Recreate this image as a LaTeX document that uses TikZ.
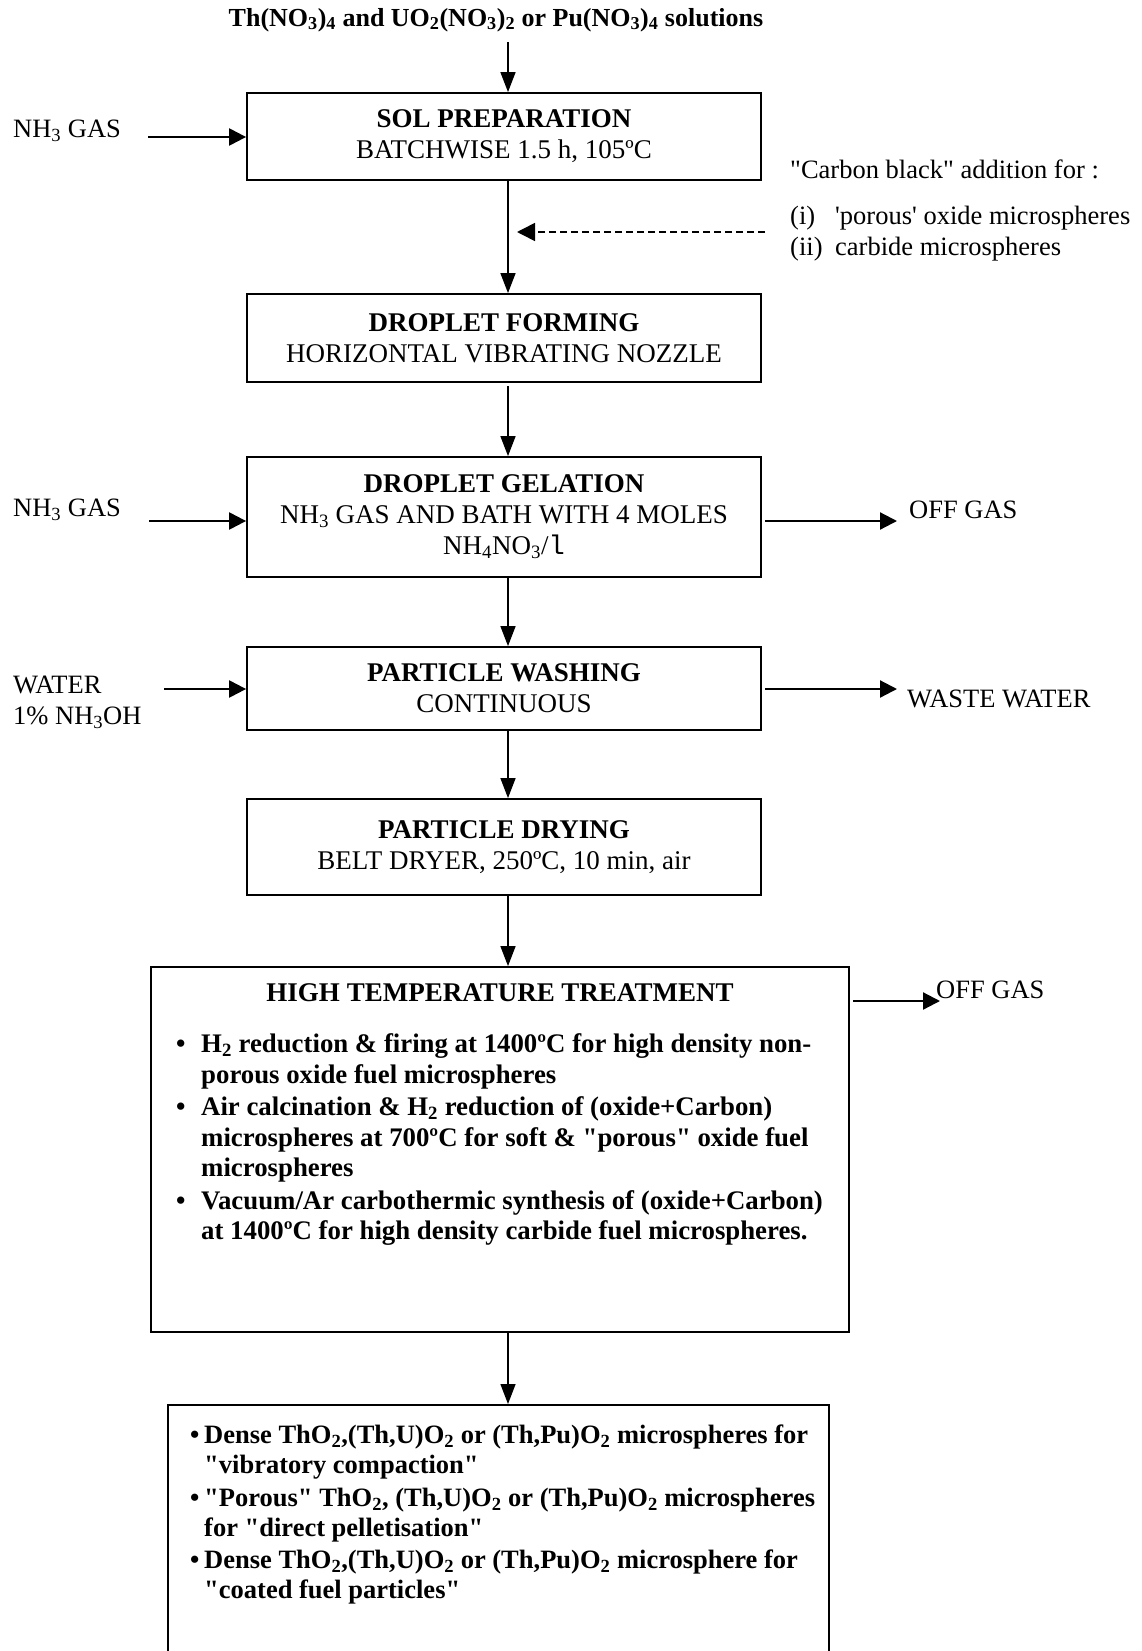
\documentclass[tikz,border=0pt]{standalone}
\usepackage{fontspec}
\setmainfont{Liberation Serif}[Ligatures=TeXOff]
\newfontfamily\cour{Liberation Mono}
\usetikzlibrary{arrows.meta}
\newcommand\sbs[1]{\textsubscript{#1}}
\tikzset{
  x=1pt, y=-1pt,
  box/.style={draw, line width=1.8pt, minimum width=514pt, inner sep=0pt, align=center,
              font=\fontsize{27pt}{31pt}\selectfont},
  varr/.style={line width=1.4pt, -{Triangle[length=20pt,width=15pt]}},
  sarr/.style={line width=2.2pt, -{Triangle[length=17pt,width=17pt]}},
  darr/.style={line width=1.6pt, dash pattern=on 7pt off 4pt, -{Triangle[length=18pt,width=18pt]}},
  lbl/.style={inner sep=0pt, font=\fontsize{26.5pt}{31pt}\selectfont},
}
\begin{document}
\begin{tikzpicture}
\clip (0,0) rectangle (1142,1651);
\fill[white] (0,0) rectangle (1142,1651);
\coordinate (ax) at (508,0);

% title
\node[lbl, font=\fontsize{26pt}{30pt}\selectfont\bfseries] (title) at (496,20)
  {Th(NO\sbs{3})\sbs{4} and UO\sbs{2}(NO\sbs{3})\sbs{2} or Pu(NO\sbs{3})\sbs{4} solutions};

% process boxes
\node[box, minimum height=87pt] (sol) at (504,136.5)
  {\textbf{SOL PREPARATION}\\BATCHWISE 1.5 h, 105ºC};
\node[box, minimum height=88pt] (df) at (504,338)
  {\textbf{DROPLET FORMING}\\HORIZONTAL VIBRATING NOZZLE};
\node[box, minimum height=120pt] (gel) at (504,517)
  {\textbf{DROPLET GELATION}\\NH\sbs{3} GAS AND BATH WITH 4 MOLES\\NH\sbs{4}NO\sbs{3}/{\cour l}};
\node[box, minimum height=83pt] (wash) at (504,688.5)
  {\textbf{PARTICLE WASHING}\\CONTINUOUS};
\node[box, minimum height=96pt] (dry) at (504,847)
  {\textbf{PARTICLE DRYING}\\BELT DRYER, 250ºC, 10 min, air};
\node[box, minimum width=698pt, minimum height=365pt] (htt) at (500,1149.5) {};
\node[box, minimum width=661pt, minimum height=400pt, anchor=north] (out) at (498.5,1404) {};

% HTT contents
\node[lbl, font=\fontsize{27pt}{31pt}\selectfont\bfseries] (htttitle) at (500,993)
  {HIGH TEMPERATURE TREATMENT};
\node[lbl, anchor=north west, font=\fontsize{26.8pt}{30.5pt}\selectfont\bfseries] (httlist) at (176,1031)
  {\begin{tabular}{@{}p{25pt}@{}l@{}}
   • & H\sbs{2} reduction \& firing at 1400ºC for high density non-\\
     & porous oxide fuel microspheres\\[2pt]
   • & Air calcination \& H\sbs{2} reduction of (oxide+Carbon)\\
     & microspheres at 700ºC for soft \& "porous" oxide fuel\\
     & microspheres\\[2pt]
   • & Vacuum/Ar carbothermic synthesis of (oxide+Carbon)\\
     & at 1400ºC for high density carbide fuel microspheres.
   \end{tabular}};

% output contents
\node[lbl, anchor=north west, font=\fontsize{26.5pt}{29.5pt}\selectfont\bfseries] (outlist) at (190,1423)
  {\begin{tabular}{@{}p{14pt}@{}l@{}}
   • & Dense ThO\sbs{2},(Th,U)O\sbs{2} or (Th,Pu)O\sbs{2} microspheres for\\
     & "vibratory compaction"\\[4pt]
   • & "Porous" ThO\sbs{2}, (Th,U)O\sbs{2} or (Th,Pu)O\sbs{2} microspheres\\
     & for "direct pelletisation"\\[3pt]
   • & Dense ThO\sbs{2},(Th,U)O\sbs{2} or (Th,Pu)O\sbs{2} microsphere for\\
     & "coated fuel particles"
   \end{tabular}};

% side labels
\node[lbl, anchor=west] (nh1) at (13,131) {NH\sbs{3} GAS};
\node[lbl, anchor=west] (nh2) at (13,510) {NH\sbs{3} GAS};
\node[lbl, anchor=west, align=left] (water) at (13,702) {WATER\\1\% NH\sbs{3}OH};
\node[lbl, anchor=west] (off1) at (909,510) {OFF GAS};
\node[lbl, anchor=west] (waste) at (907,699) {WASTE WATER};
\node[lbl, anchor=west] (off2) at (936,990) {OFF GAS};
\node[lbl, anchor=west, align=left] (carbon) at (790,210)
  {"Carbon black" addition for :\\[15pt]
   \makebox[45pt][l]{(i)}'porous' oxide microspheres\\
   \makebox[45pt][l]{(ii)}carbide microspheres};

% main flow connectors
\coordinate (t0) at (508,42);
\draw[varr] (t0) -- (sol.north -| ax);
\draw[varr] (sol.south -| ax) -- (df.north -| ax);
\coordinate (df0) at (508,386);
\draw[varr] (df0) -- (gel.north -| ax);
\draw[varr] (gel.south -| ax) -- (wash.north -| ax);
\draw[varr] (wash.south -| ax) -- (dry.north -| ax);
\draw[varr] (dry.south -| ax) -- (htt.north -| ax);
\draw[varr] (htt.south -| ax) -- (out.north -| ax);

% dashed carbon black addition
\coordinate (cb0) at (765,232);
\coordinate (cb1) at (517,232);
\draw[darr] (cb0) -- (cb1);

% side streams
\coordinate (a1) at (148,137);
\draw[sarr] (a1) -- (sol.west |- a1);
\coordinate (a2) at (149,521);
\draw[sarr] (a2) -- (gel.west |- a2);
\coordinate (a3) at (765,521);
\coordinate (a4) at (897,521);
\draw[sarr] (a3) -- (a4);
\coordinate (a5) at (164,689);
\draw[sarr] (a5) -- (wash.west |- a5);
\coordinate (a6) at (765,689);
\coordinate (a7) at (897,689);
\draw[sarr] (a6) -- (a7);
\coordinate (a8) at (853,1001);
\coordinate (a9) at (940,1001);
\draw[sarr] (a8) -- (a9);
\end{tikzpicture}
\end{document}
